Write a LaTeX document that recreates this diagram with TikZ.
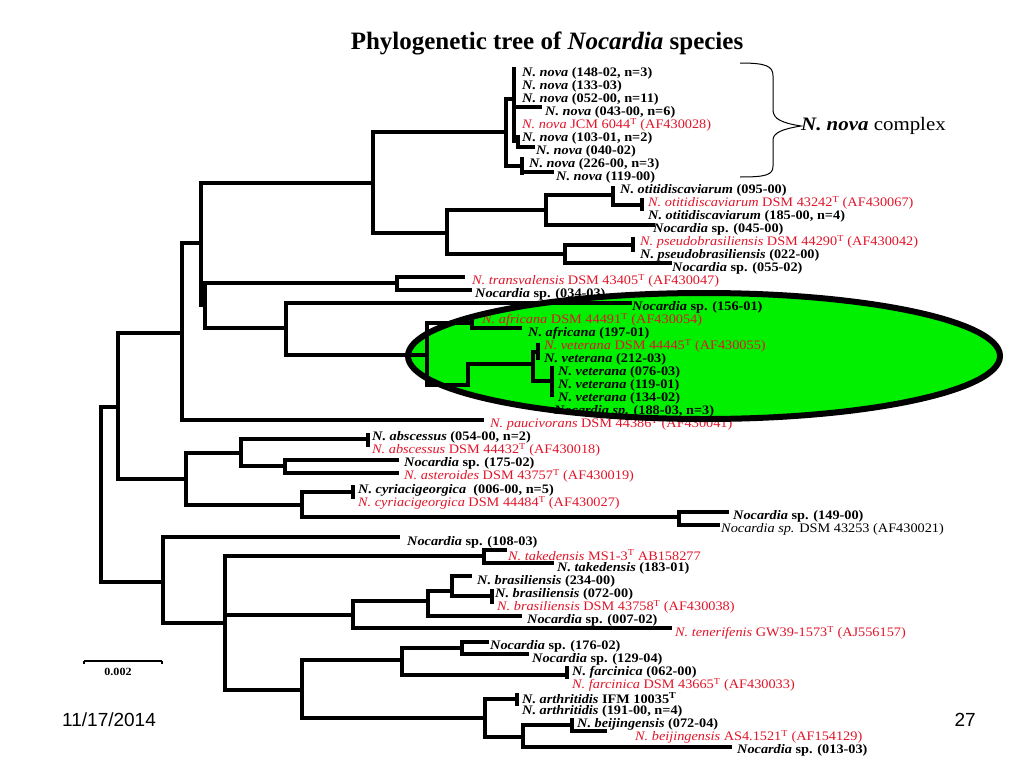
\documentclass[tikz,border=0pt]{standalone}
\usepackage{fontspec}
\setmainfont{Liberation Serif}
\newfontfamily\lab[FakeStretch=1.1]{Liberation Serif}
\newfontfamily\cxfont[FakeStretch=1.1]{Liberation Serif}
\newfontfamily\ttlfont{Liberation Serif}
\newfontfamily\sansf{Liberation Sans}
\definecolor{nred}{RGB}{225,20,40}
\definecolor{egreen}{RGB}{0,240,0}
\newcommand\hseg[3]{\draw[tree] (#1,#3) -- (#2,#3);}
\newcommand\vseg[3]{\draw[tree] (#1,#2) -- (#1,#3);}
\begin{document}
\begin{tikzpicture}[x=1pt,y=-1pt,
  tree/.style={line width=3.5pt,line cap=rect},
  lb/.style={anchor=west,inner sep=0pt,font=\lab\fontsize{13}{13}\selectfont\bfseries},
  lr/.style={anchor=west,inner sep=0pt,text=nred,font=\lab\fontsize{13}{13}\selectfont},
  lk/.style={anchor=west,inner sep=0pt,font=\lab\fontsize{13}{13}\selectfont}]
\useasboundingbox (0,0) rectangle (1024,768);
% ellipse fill (behind)
\fill[egreen] (704,356) ellipse [x radius=296, y radius=63];
% title
\node[font=\ttlfont\fontsize{25}{25}\selectfont\bfseries] (title) at (547,43) {Phylogenetic tree of \textit{Nocardia} species};
% ---------------- tree ----------------
\vseg{101}{407}{582}
\hseg{101}{118}{407}
\hseg{101}{163}{582}
\vseg{118}{333}{479}
\hseg{118}{182}{333}
\hseg{118}{186}{479}
\vseg{182}{243}{420}
\hseg{182}{201}{243}
\hseg{182}{482}{420}
\vseg{201}{183}{305}
\hseg{201}{373}{183}
\hseg{201}{205}{305}
\vseg{205}{283}{328}
\hseg{205}{397}{283}
\hseg{205}{286}{328}
\vseg{397}{277}{290}
\hseg{397}{463}{277}
\hseg{397}{470}{290}
\vseg{286}{303}{355}
\hseg{286}{630}{303}
\hseg{286}{427}{355}
\vseg{427}{323}{385}
\hseg{427}{472}{323}
\vseg{472}{320}{328}
\hseg{472}{520}{328}
\hseg{427}{468}{385}
\vseg{468}{364}{385}
\hseg{468}{533}{364}
\vseg{533}{352}{381}
\hseg{533}{538}{352}
\vseg{538}{345}{358}
\hseg{533}{552}{381}
\vseg{552}{368}{395}
\vseg{373}{132}{233}
\hseg{373}{506}{132}
\vseg{506}{99}{166}
\hseg{506}{514}{99}
\vseg{514}{69}{141}
\hseg{514}{540}{107}
\hseg{514}{518}{141}
\vseg{518}{137}{147}
\hseg{518}{533}{147}
\hseg{506}{522}{166}
\vseg{522}{159}{173}
\hseg{522}{552}{172}
\hseg{373}{447}{233}
\vseg{447}{210}{254}
\hseg{447}{546}{210}
\vseg{546}{195}{225}
\hseg{546}{613}{195}
\vseg{613}{188}{205}
\hseg{613}{642}{205}
\vseg{642}{200}{209}
\hseg{546}{653}{225}
\hseg{447}{565}{254}
\vseg{565}{245}{263}
\hseg{565}{633}{245}
\vseg{633}{239}{250}
\hseg{565}{670}{263}
\vseg{186}{453}{505}
\hseg{186}{241}{453}
\vseg{241}{439}{466}
\hseg{241}{368}{439}
\vseg{368}{435}{445}
\hseg{241}{285}{466}
\vseg{285}{460}{473}
\hseg{285}{397}{460}
\hseg{285}{397}{473}
\hseg{186}{302}{505}
\vseg{302}{492}{517}
\hseg{302}{353}{492}
\vseg{353}{487}{497}
\hseg{302}{679}{517}
\vseg{679}{512}{525}
\hseg{679}{727}{512}
\hseg{679}{718}{525}
\vseg{163}{537}{623}
\hseg{163}{398}{537}
\hseg{163}{225}{623}
\vseg{225}{556}{690}
\hseg{225}{484}{556}
\vseg{484}{550}{563}
\hseg{484}{505}{550}
\hseg{484}{552}{563}
\hseg{225}{353}{615}
\vseg{353}{601}{628}
\hseg{353}{428}{601}
\vseg{428}{591}{616}
\hseg{428}{452}{591}
\vseg{452}{576}{596}
\hseg{452}{470}{576}
\hseg{452}{492}{596}
\vseg{492}{591}{602}
\hseg{428}{520}{616}
\hseg{353}{670}{628}
\hseg{225}{302}{690}
\vseg{302}{660}{718}
\hseg{302}{402}{660}
\vseg{402}{648}{675}
\hseg{402}{462}{648}
\vseg{462}{642}{654}
\hseg{462}{487}{642}
\hseg{462}{527}{654}
\hseg{402}{567}{675}
\vseg{567}{668}{677}
\hseg{302}{485}{718}
\vseg{485}{699}{737}
\hseg{485}{517}{699}
\vseg{517}{695}{704}
\hseg{485}{523}{737}
\vseg{523}{725}{747}
\hseg{523}{572}{725}
\vseg{572}{720}{730}
\hseg{572}{605}{731}
\hseg{523}{730}{747}
% ---------------- labels ----------------
\node[lb] (l1) at (522,73) {\textit{N. nova} (148-02, n=3)};
\node[lb] (l2) at (522,86) {\textit{N. nova} (133-03)};
\node[lb] (l3) at (522,99) {\textit{N. nova} (052-00, n=11)};
\node[lb] (l4) at (545,112) {\textit{N. nova} (043-00, n=6)};
\node[lr] (l5) at (522,125) {\textit{N. nova} JCM 6044\textsuperscript{T} (AF430028)};
\node[lb] (l6) at (522,138) {\textit{N. nova} (103-01, n=2)};
\node[lb] (l7) at (536,151) {\textit{N. nova} (040-02)};
\node[lb] (l8) at (529,164) {\textit{N. nova} (226-00, n=3)};
\node[lb] (l9) at (556,177) {\textit{N. nova} (119-00)};
\node[lb] (l10) at (620,190) {\textit{N. otitidiscaviarum} (095-00)};
\node[lr] (l11) at (648,203) {\textit{N. otitidiscaviarum} DSM 43242\textsuperscript{T} (AF430067)};
\node[lb] (l12) at (648,216) {\textit{N. otitidiscaviarum} (185-00, n=4)};
\node[lb] (l13) at (653,229) {\textit{Nocardia} sp. (045-00)};
\node[lr] (l14) at (640,242) {\textit{N. pseudobrasiliensis} DSM 44290\textsuperscript{T} (AF430042)};
\node[lb] (l15) at (640,255) {\textit{N. pseudobrasiliensis} (022-00)};
\node[lb] (l16) at (672,268) {\textit{Nocardia} sp. (055-02)};
\node[lr] (l17) at (472,281) {\textit{N. transvalensis} DSM 43405\textsuperscript{T} (AF430047)};
\node[lb] (l18) at (475,294) {\textit{Nocardia} sp. (034-03)};
\node[lb] (l19) at (632,307) {\textit{Nocardia} sp. (156-01)};
\node[lr] (l20) at (482,320) {\textit{N. africana} DSM 44491\textsuperscript{T} (AF430054)};
\node[lb] (l21) at (528,333) {\textit{N. africana} (197-01)};
\node[lr] (l22) at (544,346) {\textit{N. veterana} DSM 44445\textsuperscript{T} (AF430055)};
\node[lb] (l23) at (544,359) {\textit{N. veterana} (212-03)};
\node[lb] (l24) at (558,372) {\textit{N. veterana} (076-03)};
\node[lb] (l25) at (558,385) {\textit{N. veterana} (119-01)};
\node[lb] (l26) at (558,398) {\textit{N. veterana} (134-02)};
\node[lb] (l27) at (554,411) {\textit{Nocardia sp.} (188-03, n=3)};
\node[lr] (l28) at (490,424) {\textit{N. paucivorans} DSM 44386\textsuperscript{T} (AF430041)};
\node[lb] (l29) at (372,437) {\textit{N. abscessus} (054-00, n=2)};
\node[lr] (l30) at (372,450) {\textit{N. abscessus} DSM 44432\textsuperscript{T} (AF430018)};
\node[lb] (l31) at (404,463) {\textit{Nocardia} sp. (175-02)};
\node[lr] (l32) at (404,476) {\textit{N. asteroides} DSM 43757\textsuperscript{T} (AF430019)};
\node[lb] (l33) at (358,490) {\textit{N. cyriacigeorgica}\ \ (006-00, n=5)};
\node[lr] (l34) at (358,503) {\textit{N. cyriacigeorgica} DSM 44484\textsuperscript{T} (AF430027)};
\node[lb] (l35) at (733,516) {\textit{Nocardia} sp. (149-00)};
\node[lk] (l36) at (721,529) {\textit{Nocardia sp.} DSM 43253 (AF430021)};
\node[lb] (l37) at (407,542) {\textit{Nocardia} sp. (108-03)};
\node[lr] (l38) at (508,555) {\textit{N. takedensis} MS1-3\textsuperscript{T} AB158277};
\node[lb] (l39) at (557,568) {\textit{N. takedensis} (183-01)};
\node[lb] (l40) at (477,581) {\textit{N. brasiliensis} (234-00)};
\node[lb] (l41) at (495,594) {\textit{N. brasiliensis} (072-00)};
\node[lr] (l42) at (497,607) {\textit{N. brasiliensis} DSM 43758\textsuperscript{T} (AF430038)};
\node[lb] (l43) at (527,620) {\textit{Nocardia} sp. (007-02)};
\node[lr] (l44) at (675,633) {\textit{N. tenerifenis} GW39-1573\textsuperscript{T} (AJ556157)};
\node[lb] (l45) at (490,646) {\textit{Nocardia} sp. (176-02)};
\node[lb] (l46) at (532,659) {\textit{Nocardia} sp. (129-04)};
\node[lb] (l47) at (572,672) {\textit{N. farcinica} (062-00)};
\node[lr] (l48) at (572,685) {\textit{N. farcinica} DSM 43665\textsuperscript{T} (AF430033)};
\node[lb] (l49) at (522,698) {\textit{N. arthritidis} IFM 10035\textsuperscript{T}};
\node[lb] (l50) at (522,711) {\textit{N. arthritidis} (191-00, n=4)};
\node[lb] (l51) at (577,724) {\textit{N. beijingensis} (072-04)};
\node[lr] (l52) at (635,737) {\textit{N. beijingensis} AS4.1521\textsuperscript{T} (AF154129)};
\node[lb] (l53) at (737,750) {\textit{Nocardia} sp. (013-03)};
% ellipse border on top
\draw[line width=6pt] (704,356) ellipse [x radius=296, y radius=63];
% brace and complex label
\coordinate (bt) at (740,63);
\coordinate (bb) at (740,177);
\node[anchor=west,inner sep=0pt,font=\cxfont\fontsize{19}{19}\selectfont] (cx) at (801,126) {\textbf{\textit{N. nova}} complex};
\draw[line width=1pt] (bt) .. controls (766,63) and (773,66) .. (773,76) -- (773,110)
  .. controls (773,119) and (782,123) .. (cx.west) .. controls (782,129) and (773,133) .. (773,140)
  -- (773,166) .. controls (773,175) and (766,177) .. (bb);
% scale bar
\coordinate (s1) at (84,661);
\coordinate (s2) at (162,661);
\draw[line width=2pt] (s1) -- (s2);
\draw[line width=1.5pt] (s1) -- ++(0,3) (s2) -- ++(0,3);
\node[font=\lab\fontsize{11}{11}\selectfont\bfseries] (sl) at (118,672) {0.002};
% footer
\node[anchor=west,inner sep=0pt,font=\sansf\fontsize{19}{19}\selectfont] (date) at (62,720) {11/17/2014};
\node[anchor=east,inner sep=0pt,font=\sansf\fontsize{19}{19}\selectfont] (pg) at (976,720) {27};
\end{tikzpicture}
\end{document}
